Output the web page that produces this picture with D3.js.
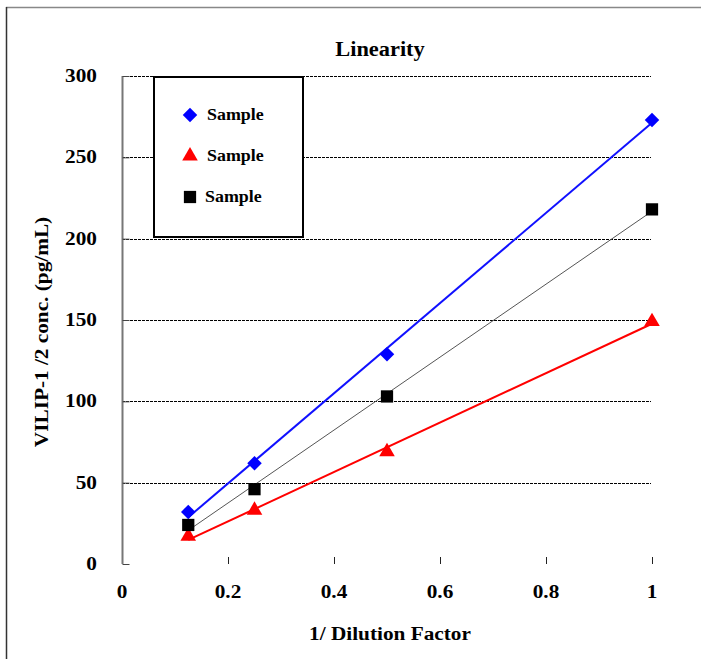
<!DOCTYPE html>
<html>
<head>
<meta charset="utf-8">
<script src="https://cdn.jsdelivr.net/npm/d3@7"></script>
<style>
  body { margin: 0; background: #fff; }
</style>
</head>
<body>
<div id="chart"></div>
<script>
// data
var dilution = [0.125, 0.25, 0.5, 1];
var sampleBlue = [32, 62, 129, 273];
var sampleRed = [17, 33, 69, 149];
var sampleBlack = [24, 46, 103, 218];
var seriesNames = ["Sample", "Sample", "Sample"];
var xTicks = [0, 0.2, 0.4, 0.6, 0.8, 1];
var yTicks = [0, 50, 100, 150, 200, 250, 300];

var W = 701, H = 659;
var margin = {top: 76, left: 122, right: 49, bottom: 95};
var FONT = "'Liberation Serif', 'Times New Roman', 'DejaVu Serif', serif";
var STRETCH = 1.12;

var xScale = d3.scaleLinear().domain([0, 1]).range([margin.left, W - margin.right]);
var yScale = d3.scaleLinear().domain([0, 300]).range([H - margin.bottom, margin.top]);

var svg = d3.select("#chart").append("svg")
  .attr("width", W)
  .attr("height", H);

// bold serif text, slightly wide like the original export
function label(parent, x, y, str, size, anchor, rot) {
  return parent.append("text")
    .attr("transform", "translate(" + x + "," + y + ")" + (rot ? " rotate(" + rot + ")" : "") + " scale(" + STRETCH + ",1)")
    .attr("text-anchor", anchor)
    .attr("font-family", FONT)
    .attr("font-weight", "bold")
    .attr("font-size", size + "px")
    .attr("fill", "#000")
    .text(str);
}

// outer frame (only top and left visible in the picture)
svg.append("line").attr("x1", 6).attr("x2", W).attr("y1", 7.5).attr("y2", 7.5)
  .attr("stroke", "#888").attr("stroke-width", 1.5);
svg.append("line").attr("x1", 6.5).attr("x2", 6.5).attr("y1", 7).attr("y2", H)
  .attr("stroke", "#333").attr("stroke-width", 1.5);

// gridlines
svg.append("g").selectAll("line")
  .data(yTicks.filter(function(d) { return d > 0; }))
  .enter().append("line")
    .attr("x1", xScale(0)).attr("x2", xScale(1) - 1)
    .attr("y1", function(d) { return Math.round(yScale(d)) + 0.5; })
    .attr("y2", function(d) { return Math.round(yScale(d)) + 0.5; })
    .attr("stroke", "#000")
    .attr("stroke-width", 1)
    .attr("stroke-dasharray", "3,1");

// y axis, ticks inside
var yAxis = d3.axisRight(yScale).tickValues(yTicks).tickSize(7).tickFormat("");
var gy = svg.append("g").attr("transform", "translate(" + (xScale(0) + 0.5) + ",0)").call(yAxis);
gy.select(".domain").attr("stroke", "#777").attr("stroke-width", 2).attr("d", "M0," + yScale(300) + "V" + yScale(0));
gy.selectAll(".tick line").attr("stroke", "#444");

yTicks.forEach(function(d) {
  label(svg, 97, yScale(d) + 6, d, 19, "end");
});

// x axis: ticks only, pointing up
var xAxis = d3.axisTop(xScale).tickValues(xTicks.filter(function(d) { return d > 0; })).tickSize(7).tickFormat("");
var gx = svg.append("g").attr("transform", "translate(0," + yScale(0) + ")").call(xAxis);
gx.select(".domain").remove();
gx.selectAll(".tick line").attr("stroke", "#222");

xTicks.forEach(function(d) {
  label(svg, xScale(d), 598, d, 19, "middle");
});

// titles
label(svg, 380, 56, "Linearity", 20, "middle");
label(svg, 390, 640, "1/ Dilution Factor", 19, "middle");
label(svg, 48, 332, "VILIP-1 /2 conc. (pg/mL)", 19, "middle", -90);

// linear trendline fit
function fit(xs, ys) {
  var mx = d3.mean(xs), my = d3.mean(ys);
  var sxy = d3.sum(xs, function(x, i) { return (x - mx) * (ys[i] - my); });
  var sxx = d3.sum(xs, function(x) { return (x - mx) * (x - mx); });
  var b = sxy / sxx;
  return {slope: b, icpt: my - b * mx};
}

var series = [
  {name: seriesNames[0], values: sampleBlue, color: "#0000ff", line: "#1010ff", lw: 2, sym: d3.symbolSquare, size: 105, rot: 45},
  {name: seriesNames[1], values: sampleRed, color: "#ff0000", line: "#ff0000", lw: 2, sym: d3.symbolTriangle, size: 105, rot: 0},
  {name: seriesNames[2], values: sampleBlack, color: "#000000", line: "#555555", lw: 1, sym: d3.symbolSquare, size: 150, rot: 0}
];

var x0 = d3.min(dilution), x1 = d3.max(dilution);
series.forEach(function(s) {
  var f = fit(dilution, s.values);
  svg.append("line")
    .attr("x1", xScale(x0)).attr("y1", yScale(f.icpt + f.slope * x0))
    .attr("x2", xScale(x1)).attr("y2", yScale(f.icpt + f.slope * x1))
    .attr("stroke", s.line)
    .attr("stroke-width", s.lw);
});

series.forEach(function(s) {
  var sym = d3.symbol().type(s.sym).size(s.size);
  svg.append("g").selectAll("path")
    .data(s.values).enter().append("path")
      .attr("d", sym)
      .attr("transform", function(d, i) {
        return "translate(" + xScale(dilution[i]) + "," + yScale(d) + ") rotate(" + s.rot + ")";
      })
      .attr("fill", s.color);
});

// legend
var legend = svg.append("g");
legend.append("rect")
  .attr("x", 154).attr("y", 77).attr("width", 149).attr("height", 160)
  .attr("fill", "#fff").attr("stroke", "#000").attr("stroke-width", 2);
var ly = [115, 156, 197];
series.forEach(function(s, i) {
  var sym = d3.symbol().type(s.sym).size(s.size);
  legend.append("path")
    .attr("d", sym)
    .attr("transform", "translate(190," + ly[i] + ") rotate(" + s.rot + ")")
    .attr("fill", s.color);
  label(legend, i === 2 ? 205 : 207, ly[i] + 5, s.name, 16, "start");
});
</script>
</body>
</html>
